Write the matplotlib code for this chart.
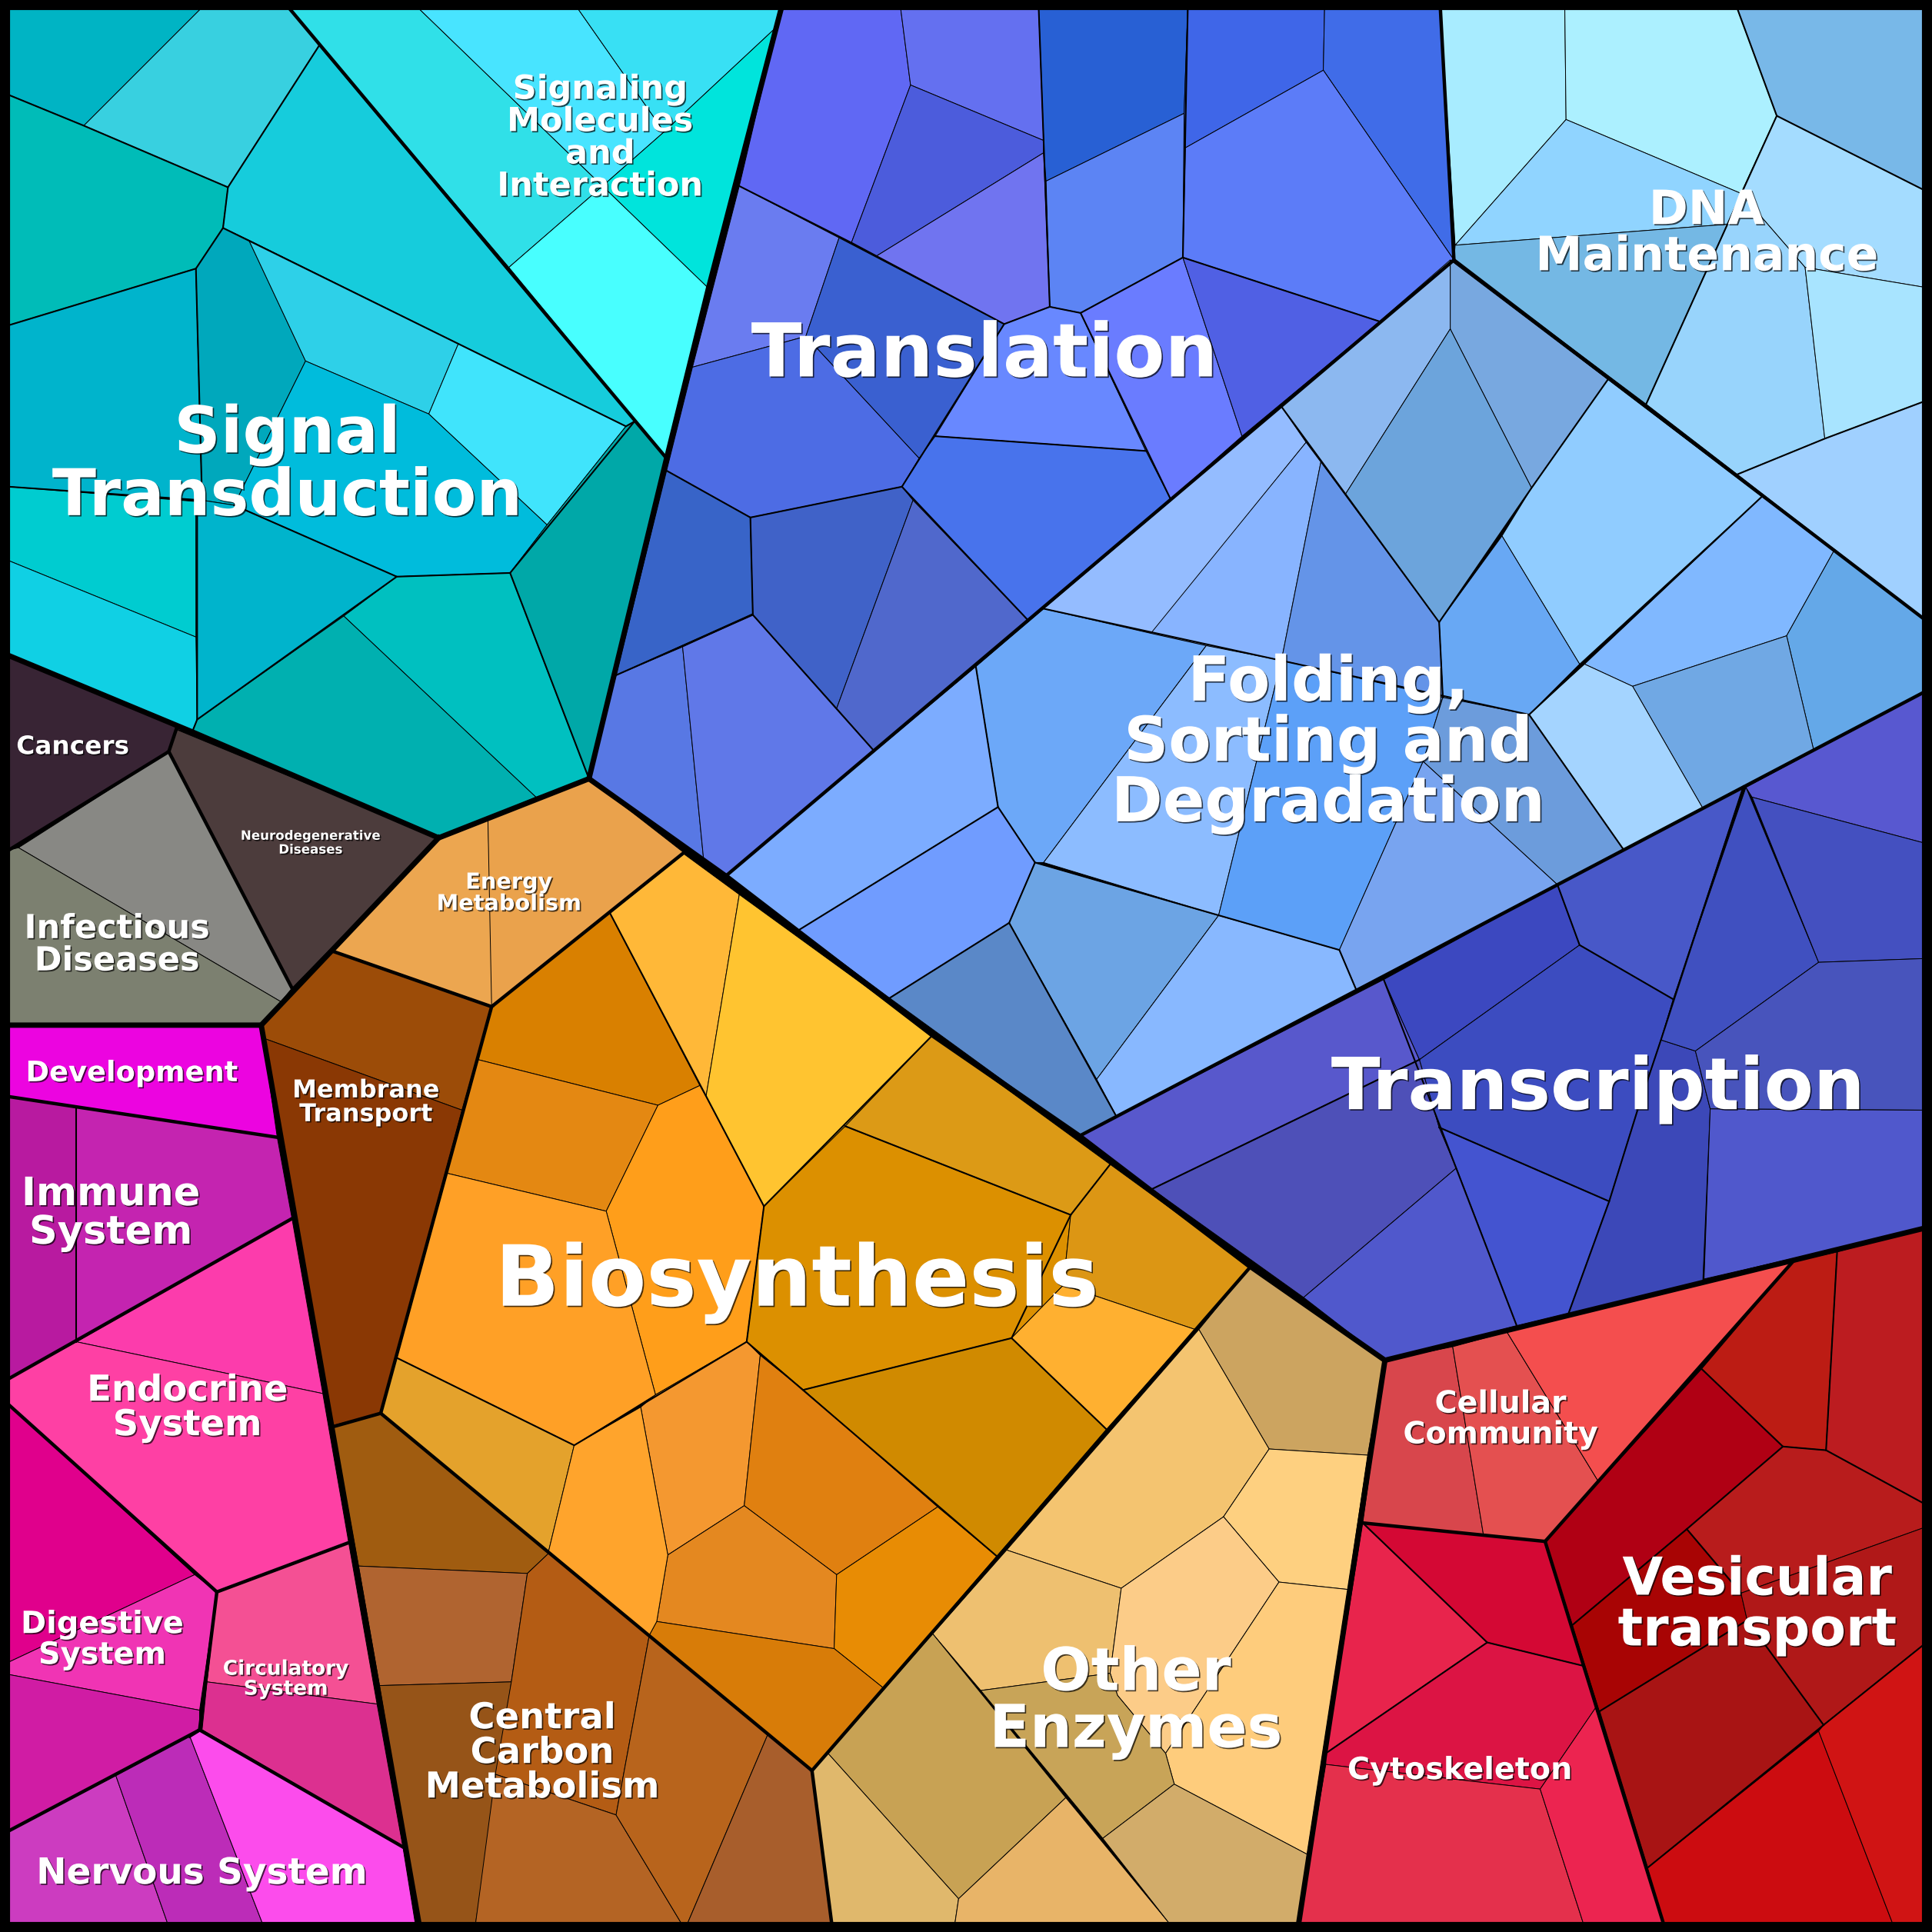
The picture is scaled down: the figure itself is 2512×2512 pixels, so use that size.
import matplotlib
matplotlib.use("Agg")
import matplotlib.pyplot as plt
import matplotlib.patheffects as pe

# cell outlines, in a 1568 x 1568 frame, one list per pathway group
signal_cells = [
    [(7,7),(163,7),(68,102),(7,77)],
    [(163,7),(235,7),(259,37),(185,152),(68,102)],
    [(7,77),(68,102),(185,152),(181,185),(159,218),(7,264)],
    [(259,37),(515,342),(508,346),(372,279),(202,195),(181,185),(185,152)],
    [(7,264),(159,218),(164,406),(7,395)],
    [(159,218),(181,185),(202,195),(248,293),(190,410),(164,406)],
    [(202,195),(372,279),(348,336),(248,293)],
    [(372,279),(508,346),(444,426),(348,336)],
    [(248,293),(348,336),(444,426),(414,465),(322,468),(190,410)],
    [(7,395),(159,407),(159,517),(7,455)],
    [(7,455),(159,517),(160,584),(156,594),(7,532)],
    [(164,406),(190,410),(322,468),(279,500),(160,584),(159,407)],
    [(322,468),(414,465),(478,632),(435,647),(279,500)],
    [(279,500),(435,647),(356,680),(156,594),(160,584)],
    [(515,342),(541,372),(478,632),(414,465),(444,426),(508,346)],
]
signal_colors = ["#00b4c4","#38d0e0","#00bcb8","#16ccdc","#00b4cc","#00a8bc","#2ed0e8","#40e4fc",
                 "#00bcdc","#00ccd0","#10d0e4","#00b4cc","#00c0c0","#00b0b0","#00a8a8"]

molecule_cells = [
    [(235,7),(340,7),(489,151),(413,217)],
    [(340,7),(469,7),(539,107),(489,151)],
    [(469,7),(634,7),(628,24),(539,107)],
    [(628,24),(575,234),(489,151),(539,107)],
    [(413,217),(489,151),(575,234),(541,372)],
]
molecule_colors = ["#30e0e8","#48e4ff","#38e0f4","#00e4dc","#48ffff"]

translation_cells = [
    [(634,7),(731,7),(739,69),(691,197),(681,193),(600,151)],
    [(731,7),(843,7),(847,114),(739,69)],
    [(739,69),(847,114),(847,124),(711,208),(691,197)],
    [(847,124),(852,249),(815,263),(711,208)],
    [(843,7),(964,7),(961,92),(849,147),(847,124),(847,114)],
    [(964,7),(1075,7),(1074,57),(962,120),(961,92)],
    [(1075,7),(1169,7),(1180,211),(1074,57)],
    [(1074,57),(1180,211),(1120,261),(960,209),(962,120)],
    [(849,147),(961,92),(960,209),(877,254),(852,249)],
    [(600,151),(681,193),(654,273),(562,298)],
    [(681,193),(815,263),(759,354),(746,372),(654,273)],
    [(562,298),(654,273),(746,372),(732,395),(609,420),(541,382)],
    [(759,354),(930,366),(877,254),(852,249),(815,263)],
    [(877,254),(960,209),(1008,354),(950,405),(930,366)],
    [(960,209),(1120,261),(1008,354)],
    [(759,354),(930,366),(950,405),(834,503),(741,406),(732,395),(746,372)],
    [(541,382),(609,420),(611,498),(500,548)],
    [(609,420),(732,395),(741,406),(679,575),(611,499)],
    [(741,406),(834,503),(709,609),(679,575)],
    [(500,548),(554,525),(571,697),(478,632)],
    [(554,525),(611,499),(709,609),(589,711),(571,697)],
]
translation_colors = ["#6068f4","#6470f0","#4c5cdc","#7074f0","#2860d4","#3f66e8","#406ce8","#5c7cf8",
                      "#5c84f4","#6a7cf0","#3a60d0","#4d6ce4","#6888ff","#6a7cff","#5060e4","#4873ec",
                      "#3864c8","#4062c8","#5068cc","#5878e4","#6078e8"]

dna_cells = [
    [(1169,7),(1270,7),(1271,97),(1181,199)],
    [(1270,7),(1410,7),(1442,94),(1413,157),(1271,97)],
    [(1410,7),(1561,7),(1561,154),(1442,94)],
    [(1271,97),(1413,157),(1402,182),(1181,199)],
    [(1181,199),(1402,182),(1336,328),(1180,211)],
    [(1442,94),(1561,154),(1561,233),(1465,217),(1413,157)],
    [(1413,157),(1465,217),(1481,356),(1410,385),(1336,328),(1402,182)],
    [(1465,217),(1561,233),(1561,326),(1481,356)],
    [(1481,356),(1561,326),(1561,502),(1410,385)],
]
dna_colors = ["#a8ecff","#acf0ff","#78b8e8","#90d4ff","#74b8e4","#a4dcff","#98d4fc","#a8e4ff","#a0d0ff"]

folding_cells = [
    [(1177,211),(1305,308),(1243,396),(1177,267)],
    [(1177,211),(1177,267),(1092,401),(1040,330)],
    [(1177,267),(1243,396),(1168,505),(1092,401)],
    [(1305,308),(1430,403),(1282,539),(1219,435),(1243,396)],
    [(1219,435),(1282,539),(1241,580),(1171,566),(1168,505)],
    [(1430,403),(1489,446),(1450,516),(1325,557),(1286,539)],
    [(1489,446),(1561,502),(1561,562),(1472,609),(1450,516)],
    [(1325,557),(1450,516),(1472,609),(1382,656)],
    [(1286,539),(1325,557),(1382,656),(1318,690),(1241,580)],
    [(1040,330),(1060,359),(935,514),(847,494)],
    [(1060,359),(1072,375),(1040,536),(979,524),(934,514)],
    [(1072,375),(1168,505),(1171,566),(1040,536)],
    [(847,494),(934,514),(979,524),(847,700),(840,700),(810,655),(792,541)],
    [(979,524),(1040,536),(989,743),(847,700)],
    [(1040,536),(1171,566),(1155,618),(1087,771),(989,743)],
    [(1171,566),(1241,580),(1318,690),(1264,718),(1155,618)],
    [(1155,618),(1264,718),(1101,804),(1087,771)],
    [(792,541),(810,655),(648,755),(589,711)],
    [(810,655),(840,700),(819,749),(722,810),(648,755)],
    [(840,700),(989,743),(890,876),(819,749)],
    [(989,743),(1087,771),(1101,804),(906,906),(890,876)],
    [(819,749),(890,876),(906,906),(876,922),(722,810)],
]
folding_colors = ["#78a8e0","#8cb8f0","#6ca4dc","#90ccff","#68a8f4","#80b8ff","#64a8e8","#70a8e4",
                  "#a4d4ff","#94bcff","#88b4ff","#6494e8","#6ca8f8","#8cbcff","#5ca0f8","#6c9cdc",
                  "#78a4f0","#7cacff","#709cff","#6ca4e4","#88b8ff","#5a88c8"]

transcription_cells = [
    [(876,922),(1123,795),(1152,860),(935,965)],
    [(935,965),(1152,860),(1168,915),(1182,948),(1058,1053)],
    [(1058,1053),(1182,948),(1231,1076),(1124,1104)],
    [(1123,795),(1264,718),(1282,767),(1152,860)],
    [(1264,718),(1415,638),(1358,811),(1282,767)],
    [(1282,767),(1358,811),(1348,844),(1329,901),(1306,975),(1168,915),(1152,860)],
    [(1168,915),(1306,975),(1273,1066),(1231,1076),(1182,948)],
    [(1348,844),(1376,853),(1388,900),(1382,1040),(1273,1066),(1306,975),(1329,901)],
    [(1417,639),(1476,781),(1376,853),(1348,844),(1358,811)],
    [(1417,639),(1561,562),(1561,684),(1422,647)],
    [(1422,647),(1561,684),(1561,778),(1476,781)],
    [(1476,781),(1561,778),(1561,901),(1388,900),(1376,853)],
    [(1388,900),(1561,901),(1561,997),(1383,1038)],
]
transcription_colors = ["#5858cc","#4e50b8","#5058cc","#3c48c0","#4858c8","#3c4cc0","#4454d0",
                        "#3c48b8","#4050c0","#5858d0","#4450c0","#4854bc","#5058cc"]

biosynthesis_cells = [
    [(555,693),(600,726),(573,890),(568,881),(495,741)],
    [(600,726),(757,840),(686,914),(620,979),(573,890)],
    [(495,741),(568,881),(534,897),(388,860),(399,817)],
    [(388,860),(534,897),(492,983),(362,952)],
    [(568,881),(573,890),(620,979),(606,1089),(532,1132),(492,983),(534,897)],
    [(362,952),(492,983),(532,1132),(466,1173),(322,1102)],
    [(322,1102),(466,1173),(445,1260),(309,1147)],
    [(686,914),(869,986),(863,1043),(821,1086),(652,1128),(606,1089),(620,979)],
    [(757,840),(901,945),(869,986),(686,914)],
    [(901,945),(1015,1028),(970,1079),(863,1043),(869,986)],
    [(863,1043),(970,1079),(898,1160),(821,1086)],
    [(652,1128),(821,1086),(898,1160),(809,1263),(761,1223)],
    [(606,1089),(617,1100),(604,1222),(542,1262),(520,1142),(532,1132)],
    [(617,1100),(652,1128),(761,1223),(679,1278),(604,1222)],
    [(604,1222),(679,1278),(677,1338),(533,1316),(542,1262)],
    [(679,1278),(761,1223),(809,1263),(717,1370),(677,1338)],
    [(527,1327),(533,1316),(677,1338),(717,1370),(659,1437)],
    [(445,1260),(466,1173),(520,1142),(542,1262),(533,1316),(527,1327)],
]
biosynthesis_colors = ["#ffb838","#ffc430","#d98000","#e48812","#ff9e1a","#ffa026","#e4a22c","#dc9000",
                       "#dc9a16","#dc9614","#ffb030","#d08a00","#f49830","#e08010","#e48820","#e88c04",
                       "#d87c08","#ffa42c"]

energy_cells = [
    [(356,680),(396,665),(401,817),(270,772)],
    [(396,665),(478,632),(555,692),(399,817)],
]
energy_colors = ["#eca650","#eaa24c"]

membrane_cells = [
    [(212,832),(270,772),(399,817),(375,901),(215,843)],
    [(215,843),(375,901),(309,1147),(270,1158)],
]
membrane_colors = ["#9c4c08","#8a3804"]

carbon_cells = [
    [(270,1157),(309,1147),(446,1260),(428,1277),(291,1271)],
    [(291,1271),(428,1277),(415,1365),(308,1368)],
    [(308,1368),(415,1365),(386,1561),(340,1561)],
    [(428,1277),(446,1260),(527,1327),(500,1473),(402,1440),(415,1365)],
    [(402,1440),(500,1473),(553,1561),(386,1561)],
    [(527,1327),(623,1408),(558,1561),(553,1561),(500,1473)],
    [(623,1408),(659,1437),(675,1561),(558,1561)],
]
carbon_colors = ["#a05c10","#b06430","#965418","#b45c14","#b46424","#b8641c","#a85e2c"]

enzyme_cells = [
    [(1015,1028),(1124,1104),(1110,1181),(1030,1176),(973,1079)],
    [(973,1079),(1030,1176),(993,1231),(910,1289),(817,1258)],
    [(1030,1176),(1110,1181),(1094,1290),(1038,1284),(993,1231)],
    [(817,1258),(910,1289),(901,1358),(796,1372),(757,1326)],
    [(910,1289),(993,1231),(1038,1284),(946,1423),(907,1376),(901,1358)],
    [(1038,1284),(1094,1290),(1061,1505),(953,1448),(946,1423)],
    [(796,1372),(901,1358),(907,1376),(946,1423),(953,1448),(895,1492)],
    [(757,1326),(865,1459),(778,1541),(672,1423)],
    [(672,1423),(778,1541),(775,1561),(675,1561),(659,1437)],
    [(865,1459),(949,1561),(775,1561),(778,1541)],
    [(953,1448),(1061,1505),(1054,1561),(949,1561),(895,1492)],
]
enzyme_colors = ["#cca460","#f4c470","#fed080","#eec070","#fccc88","#fecc7c","#c8a458","#c8a254",
                 "#e0b86c","#e8b468","#d2ac6a"]

community_cells = [
    [(1124,1104),(1179,1093),(1204,1246),(1106,1236)],
    [(1179,1093),(1223,1081),(1297,1202),(1254,1251),(1204,1246)],
    [(1223,1081),(1455,1024),(1297,1202)],
]
community_colors = ["#d8464c","#e45050","#f44e4e"]

vesicular_cells = [
    [(1455,1024),(1491,1016),(1482,1177),(1447,1174),(1381,1111)],
    [(1491,1016),(1561,997),(1561,1220),(1482,1177)],
    [(1381,1111),(1447,1174),(1369,1241),(1276,1319),(1254,1251)],
    [(1276,1319),(1369,1241),(1413,1293),(1418,1315),(1298,1389)],
    [(1447,1174),(1482,1177),(1561,1220),(1561,1240),(1413,1293),(1369,1241)],
    [(1413,1293),(1561,1240),(1561,1335),(1480,1400),(1418,1315)],
    [(1298,1389),(1418,1315),(1480,1400),(1337,1516)],
    [(1337,1516),(1476,1405),(1536,1561),(1350,1561)],
    [(1476,1405),(1480,1400),(1561,1335),(1561,1561),(1536,1561)],
]
vesicular_colors = ["#bc1c14","#bc1c20","#b00014","#a80404","#b81c1c","#b01818","#a81414","#cc0c10","#d01414"]

cytoskeleton_cells = [
    [(1106,1236),(1207,1333),(1076,1423)],
    [(1106,1236),(1254,1251),(1276,1319),(1285,1352),(1207,1333)],
    [(1207,1333),(1285,1352),(1295,1386),(1250,1452),(1076,1432),(1076,1423)],
    [(1076,1432),(1250,1452),(1285,1561),(1054,1561)],
    [(1295,1386),(1350,1561),(1285,1561),(1250,1452)],
]
cytoskeleton_colors = ["#e8244c","#d40834","#dc1444","#e4304c","#ec2450"]

human_cells = [
    [(7,532),(156,594),(143,592),(137,610),(7,690)],
    [(143,592),(356,680),(237,802),(137,610)],
    [(137,610),(237,802),(228,813),(15,688)],
    [(7,690),(15,688),(228,813),(212,832),(7,832)],
    [(7,832),(212,832),(225,923),(7,890)],
    [(7,890),(62,899),(62,1089),(7,1119)],
    [(62,899),(225,923),(237,989),(62,1089)],
    [(62,1089),(237,989),(262,1131)],
    [(7,1119),(62,1089),(262,1131),(283,1252),(176,1292),(7,1140)],
    [(7,1140),(158,1278),(7,1349)],
    [(158,1278),(176,1292),(162,1388),(7,1359),(7,1349)],
    [(7,1359),(162,1388),(162,1404),(7,1486)],
    [(176,1292),(283,1252),(306,1383),(168,1365)],
    [(168,1365),(306,1383),(327,1499),(164,1404)],
    [(7,1486),(94,1441),(136,1561),(7,1561)],
    [(94,1441),(154,1409),(213,1561),(136,1561)],
    [(154,1409),(164,1404),(327,1499),(337,1561),(213,1561)],
]
human_colors = ["#382434","#4c3c3c","#888884","#7c8070","#ec04e0","#b81aa0","#c424b0","#fc3cac","#fe40a4",
                "#e0008c","#f034b4","#d01ca4","#f45094","#dc3090","#cc3cc0","#bc2cb8","#fc4cec"]

# borders between the groups
thick_lines = [
    [(7,532),(156,594),(356,680),(478,632),(541,372),(575,234),(634,7)],
    [(478,632),(589,711),(757,840),(876,922),(1015,1028),(1124,1104)],
    [(1124,1104),(1561,997)],
    [(1124,1104),(1054,1561)],
    [(7,832),(212,832),(340,1561)],
    [(212,832),(356,680)],
]
medium_lines = [
    [(235,7),(541,372)],
    [(1169,7),(1180,211),(589,711)],
    [(1180,211),(1561,502)],
    [(1561,562),(876,922)],
    [(270,772),(399,817),(555,692)],
    [(399,817),(309,1147),(270,1158)],
    [(309,1147),(659,1437),(675,1561)],
    [(659,1437),(1015,1028)],
    [(7,690),(137,610),(143,592)],
    [(137,610),(237,802)],
    [(7,890),(225,923)],
    [(7,1119),(237,989)],
    [(7,1140),(176,1292),(283,1252)],
    [(176,1292),(162,1404),(7,1486)],
    [(154,1409),(162,1404),(327,1499)],
    [(1106,1236),(1254,1251),(1350,1561)],
    [(1254,1251),(1455,1024)],
]
# borders between sub groups inside a pathway group
inner_lines = [
    [(7,77),(68,102),(185,152),(181,185),(159,218),(7,264)],
    [(185,152),(259,37)],
    [(181,185),(508,346),(515,342)],
    [(159,218),(164,406),(7,395)],
    [(160,407),(160,584),(156,594)],
    [(190,410),(322,468),(160,584)],
    [(322,468),(414,465),(478,632)],
    [(414,465),(515,342)],
    [(600,151),(691,197),(815,263),(852,249),(877,254),(960,209),(1120,261)],
    [(843,7),(852,249)],
    [(964,7),(960,209)],
    [(815,263),(732,395),(609,420),(541,382)],
    [(732,395),(834,503)],
    [(609,420),(611,499),(500,548)],
    [(611,499),(709,609)],
    [(877,254),(950,405)],
    [(759,354),(930,366)],
    [(1442,94),(1402,182),(1336,328)],
    [(1410,7),(1442,94),(1561,154)],
    [(1561,326),(1481,356),(1410,385)],
    [(847,494),(1241,580),(1318,690)],
    [(840,700),(1087,771),(1101,804)],
    [(792,541),(810,655),(840,700),(819,749),(722,810)],
    [(648,755),(810,655)],
    [(1040,330),(1092,401),(1168,505),(1243,396),(1305,308)],
    [(1168,505),(1171,566)],
    [(1430,403),(1241,580)],
    [(819,749),(906,906)],
    [(1123,795),(1231,1076)],
    [(1152,860),(935,965)],
    [(1264,718),(1282,767),(1358,811)],
    [(1415,638),(1348,844),(1329,901),(1306,975),(1273,1066)],
    [(1306,975),(1168,915)],
    [(495,741),(620,979),(606,1089)],
    [(757,840),(620,979)],
    [(606,1089),(466,1173),(322,1102)],
    [(606,1089),(809,1263)],
    [(652,1128),(821,1086),(898,1160)],
    [(821,1086),(869,986),(901,945)],
    [(686,914),(869,986)],
    [(1106,1236),(1207,1333),(1076,1423)],
    [(1207,1333),(1285,1352)],
    [(1276,1319),(1369,1241),(1447,1174),(1381,1111)],
    [(1447,1174),(1482,1177),(1561,1220)],
    [(1482,1177),(1491,1016)],
    [(1298,1389),(1418,1315),(1480,1400)],
    [(1369,1241),(1413,1293)],
    [(1298,1389),(1337,1516),(1480,1400),(1561,1335)],
    [(62,899),(62,1089)],
]

labels = ["Signal\nTransduction","Signaling\nMolecules\nand\nInteraction","Translation","DNA\nMaintenance",
          "Folding,\nSorting and\nDegradation","Transcription","Biosynthesis","Energy\nMetabolism",
          "Neurodegenerative\nDiseases","Cancers","Infectious\nDiseases","Development","Membrane\nTransport",
          "Immune\nSystem","Endocrine\nSystem","Digestive\nSystem","Circulatory\nSystem","Nervous System",
          "Central\nCarbon\nMetabolism","Other\nEnzymes","Cellular\nCommunity","Cytoskeleton","Vesicular\ntransport"]
label_x = [233,487,799,1385,1078,1297,647,413,252,59,95,107,297,90,152,83,232,164,440,922,1218,1185,1426]
label_y = [378,112,289,190,604,884,1041,725,684,606,767,871,895,985,1143,1331,1363,1521,1423,1382,1152,1437,1303]
label_size = [60.4,31,69.5,44.3,58,67.4,79,20.7,12,23.6,31,26.5,23,36.7,33.5,28.7,19,33.8,33.5,55.5,28.5,28.6,49]

groups = [
    (signal_cells, signal_colors), (molecule_cells, molecule_colors),
    (translation_cells, translation_colors), (dna_cells, dna_colors),
    (folding_cells, folding_colors), (transcription_cells, transcription_colors),
    (biosynthesis_cells, biosynthesis_colors), (energy_cells, energy_colors),
    (membrane_cells, membrane_colors), (carbon_cells, carbon_colors),
    (enzyme_cells, enzyme_colors), (community_cells, community_colors),
    (vesicular_cells, vesicular_colors), (cytoskeleton_cells, cytoskeleton_colors),
    (human_cells, human_colors),
]

fig = plt.figure(figsize=(25.12, 25.12), dpi=100, facecolor="black")
ax = fig.add_axes([0, 0, 1, 1])
ax.set_xlim(0, 1568)
ax.set_ylim(1568, 0)
ax.set_facecolor("black")
ax.axis("off")

for cells, colors in groups:
    for pts, c in zip(cells, colors):
        xs, ys = zip(*pts)
        ax.fill(xs, ys, facecolor=c, edgecolor="black", linewidth=0.7, joinstyle="round")

for line in inner_lines:
    xs, ys = zip(*line)
    ax.plot(xs, ys, color="black", linewidth=1.5, solid_joinstyle="round")
for line in medium_lines:
    xs, ys = zip(*line)
    ax.plot(xs, ys, color="black", linewidth=3.2, solid_joinstyle="round")
for line in thick_lines:
    xs, ys = zip(*line)
    ax.plot(xs, ys, color="black", linewidth=5, solid_joinstyle="round")

# outer frame
ax.plot([7, 1561, 1561, 7, 7], [7, 7, 1561, 1561, 7], color="black", linewidth=3)

shadow = [pe.withSimplePatchShadow(offset=(1.2, -1.2), shadow_rgbFace="black", alpha=0.7)]
for s, x, y, size in zip(labels, label_x, label_y, label_size):
    ax.text(x, y, s, color="white", fontsize=size, fontweight="bold", family="DejaVu Sans",
            ha="center", va="center", linespacing=1.0, path_effects=shadow)

fig.savefig("out.png", dpi=100, facecolor="black")
